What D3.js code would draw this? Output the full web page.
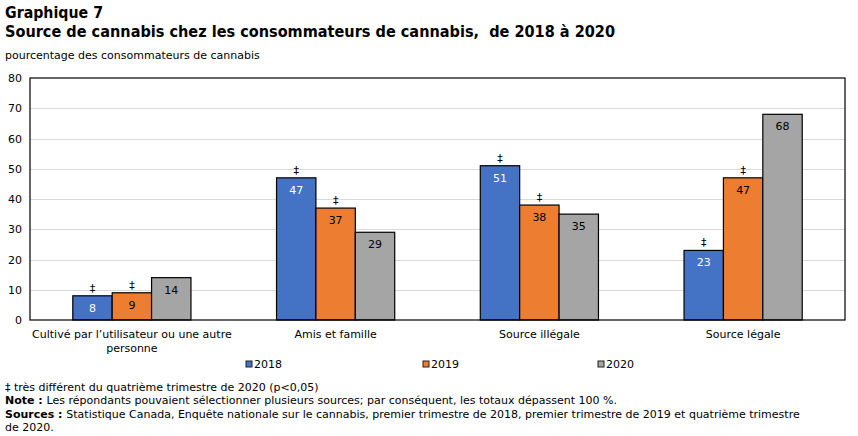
<!DOCTYPE html>
<html>
<head>
<meta charset="UTF-8">
<script src="https://d3js.org/d3.v7.min.js"></script>
<style>
  body { margin: 0; background: #fff; }
  text { font-family: Verdana, "DejaVu Sans", sans-serif; }
</style>
</head>
<body>
<div id="chart"></div>
<script>
// data
var categories = ["Cultivé par l’utilisateur ou une autre personne", "Amis et famille", "Source illégale", "Source légale"];
var years = ["2018", "2019", "2020"];
var v2018 = [8, 47, 51, 23];
var v2019 = [9, 37, 38, 47];
var v2020 = [14, 29, 35, 68];
var sig2018 = [true, true, true, true];
var sig2019 = [true, true, true, true];
var sig2020 = [false, false, false, false];
var yTicks = [0, 10, 20, 30, 40, 50, 60, 70, 80];

var colors = ["#4472C4", "#ED7D31", "#A5A5A5"];
var seriesVals = [v2018, v2019, v2020];
var seriesSig = [sig2018, sig2019, sig2020];

var W = 858, H = 436;
var margin = {top: 78, right: 13, bottom: 116, left: 30};
var width = W - margin.left - margin.right;
var height = H - margin.top - margin.bottom;

var svg = d3.select("#chart").append("svg")
  .attr("width", W).attr("height", H);

// titles
svg.append("text").attr("x", 5).attr("y", 18)
  .style("font-size", "15px").style("font-weight", "bold")
  .attr("textLength", 98).attr("lengthAdjust", "spacingAndGlyphs")
  .text("Graphique 7");
svg.append("text").attr("x", 5).attr("y", 37)
  .style("font-size", "15px").style("font-weight", "bold")
  .attr("textLength", 610).attr("lengthAdjust", "spacingAndGlyphs")
  .text("Source de cannabis chez les consommateurs de cannabis,\u00a0 de 2018 à 2020");
svg.append("text").attr("x", 5).attr("y", 59)
  .style("font-size", "11px")
  .text("pourcentage des consommateurs de cannabis");

var g = svg.append("g").attr("transform", "translate(" + margin.left + "," + margin.top + ")");

var x0 = d3.scaleBand().domain(categories).range([0, width]).paddingInner(0.42).paddingOuter(0.21);
var x1 = d3.scaleBand().domain(years).range([0, x0.bandwidth()]);
var y = d3.scaleLinear().domain([0, 80]).range([height, 0]);

// gridlines
g.append("g").selectAll("line").data(yTicks.filter(function(d) { return d > 0 && d < 80; }))
  .enter().append("line")
  .attr("x1", 0).attr("x2", width)
  .attr("y1", function(d) { return Math.round(y(d)) + 0.5; })
  .attr("y2", function(d) { return Math.round(y(d)) + 0.5; })
  .attr("stroke", "#d9d9d9").attr("stroke-width", 1);

// y axis labels
var yAxis = g.append("g").call(d3.axisLeft(y).tickValues(yTicks).tickSize(0).tickPadding(8));
yAxis.select(".domain").remove();
yAxis.selectAll("text").style("font-size", "11px").attr("fill", "#000");

// bars
var rows = [];
categories.forEach(function(c, i) {
  years.forEach(function(yr, j) {
    rows.push({cat: c, year: yr, value: seriesVals[j][i], sig: seriesSig[j][i], color: colors[j], j: j});
  });
});

g.selectAll(".bar").data(rows).enter().append("rect")
  .attr("class", "bar")
  .attr("x", function(d) { return x0(d.cat) + x1(d.year); })
  .attr("width", x1.bandwidth())
  .attr("y", function(d) { return y(d.value); })
  .attr("height", function(d) { return height - y(d.value); })
  .attr("fill", function(d) { return d.color; })
  .attr("stroke", "#000").attr("stroke-width", 1.2);

g.selectAll(".val").data(rows).enter().append("text")
  .attr("x", function(d) { return x0(d.cat) + x1(d.year) + x1.bandwidth() / 2; })
  .attr("y", function(d) { return y(d.value) + 16; })
  .attr("text-anchor", "middle")
  .style("font-size", "11px")
  .attr("fill", function(d) { return d.j === 0 ? "#fff" : "#000"; })
  .text(function(d) { return d.value; });

g.selectAll(".sig").data(rows.filter(function(d) { return d.sig; })).enter().append("text")
  .attr("x", function(d) { return x0(d.cat) + x1(d.year) + x1.bandwidth() / 2; })
  .attr("y", function(d) { return y(d.value) - 4; })
  .attr("text-anchor", "middle")
  .style("font-size", "11px")
  .text("‡");

// plot frame
g.append("rect").attr("x", 0).attr("y", 0).attr("width", width).attr("height", height)
  .attr("fill", "none").attr("stroke", "#000").attr("stroke-width", 1.2);

// x axis labels
var xAxis = g.append("g").attr("transform", "translate(0," + height + ")")
  .call(d3.axisBottom(x0).tickSize(0).tickPadding(10));
xAxis.select(".domain").remove();
xAxis.selectAll("text").style("font-size", "11px").attr("fill", "#000").call(wrap, 232);

function wrap(sel, w) {
  sel.each(function() {
    var t = d3.select(this);
    var words = t.text().split(/\s+/);
    var yy = t.attr("y"), dy = parseFloat(t.attr("dy"));
    var line = [], lineNo = 0;
    var ts = t.text(null).append("tspan").attr("x", 0).attr("y", yy).attr("dy", dy + "em");
    words.forEach(function(word) {
      line.push(word);
      ts.text(line.join(" "));
      if (ts.node().getComputedTextLength() > w && line.length > 1) {
        line.pop();
        ts.text(line.join(" "));
        line = [word];
        ts = t.append("tspan").attr("x", 0).attr("y", yy).attr("dy", (++lineNo * 1.3 + dy) + "em").text(word);
      }
    });
  });
}

// legend
var legX = [246, 423, 598];
var leg = svg.append("g").selectAll("g").data(years).enter().append("g")
  .attr("transform", function(d, i) { return "translate(" + legX[i] + ",361)"; });
leg.append("rect").attr("width", 6).attr("height", 6)
  .attr("fill", function(d, i) { return colors[i]; })
  .attr("stroke", "#222").attr("stroke-width", 1);
leg.append("text").attr("x", 8).attr("y", 7)
  .style("font-size", "11px").text(function(d) { return d; });

// notes
var notes = svg.append("g").style("font-size", "11px");
notes.append("text").attr("x", 5).attr("y", 391).text("‡ très différent du quatrième trimestre de 2020 (p<0,05)");
var n2 = notes.append("text").attr("x", 5).attr("y", 404);
n2.append("tspan").style("font-weight", "bold").text("Note : ");
n2.append("tspan").text("Les répondants pouvaient sélectionner plusieurs sources; par conséquent, les totaux dépassent 100 %.");
var n3 = notes.append("text").attr("x", 5).attr("y", 418);
n3.append("tspan").style("font-weight", "bold").text("Sources : ");
n3.append("tspan").text("Statistique Canada, Enquête nationale sur le cannabis, premier trimestre de 2018, premier trimestre de 2019 et quatrième trimestre");
notes.append("text").attr("x", 5).attr("y", 431).text("de 2020.");
</script>
</body>
</html>
